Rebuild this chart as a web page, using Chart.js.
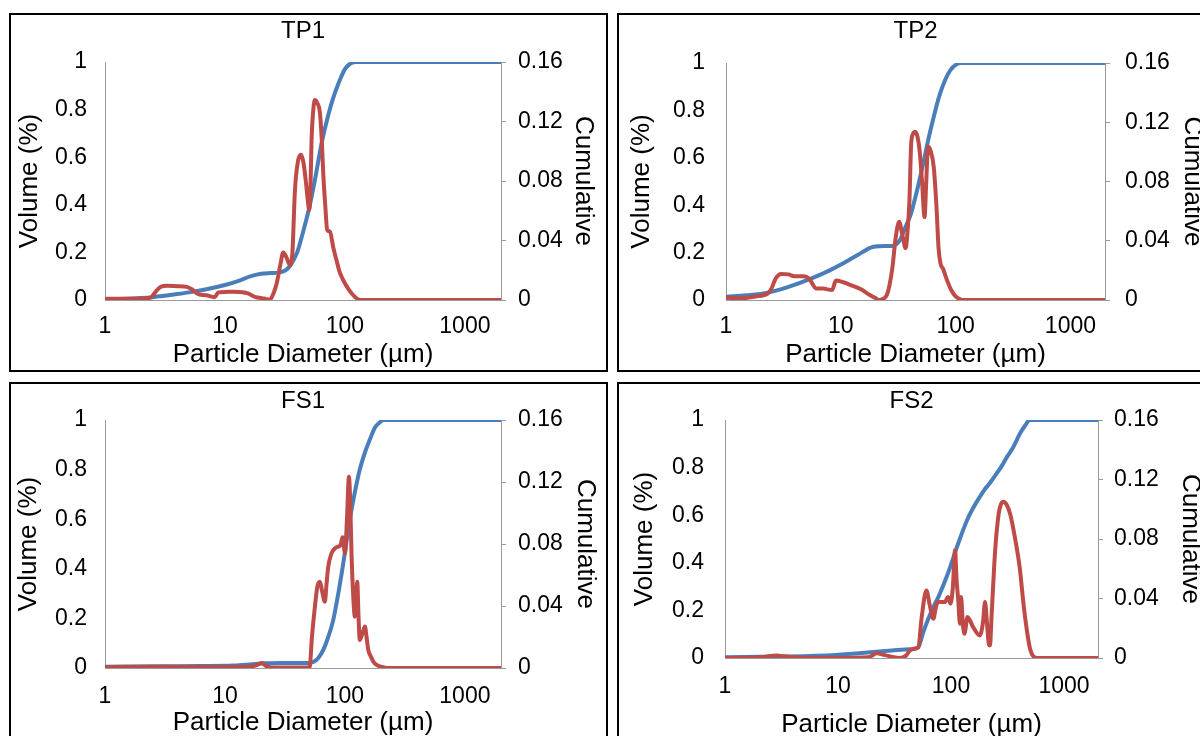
<!DOCTYPE html>
<html><head><meta charset="utf-8">
<script src="https://cdn.jsdelivr.net/npm/chart.js@4.4.1/dist/chart.umd.min.js"></script>
<style>
html,body{margin:0;padding:0;background:#fff;}
body{width:1200px;height:736px;overflow:hidden;position:relative;}
.panel{position:absolute;border:2px solid #000;box-sizing:border-box;}
canvas{position:absolute;}
</style></head><body>
<div class="panel" style="left:9px;top:13px;width:599px;height:359px"></div>
<div class="panel" style="left:617px;top:13px;width:620px;height:359px"></div>
<div class="panel" style="left:9px;top:382px;width:599px;height:400px"></div>
<div class="panel" style="left:617px;top:382px;width:620px;height:400px"></div>
<canvas id="tp1" width="595" height="355" style="left:11px;top:15px"></canvas>
<canvas id="tp2" width="595" height="355" style="left:619px;top:15px"></canvas>
<canvas id="fs1" width="595" height="355" style="left:11px;top:384px"></canvas>
<canvas id="fs2" width="595" height="355" style="left:619px;top:384px"></canvas>
<script>
// ---- Tick labels ----
const xTickValues = [1, 10, 100, 1000];
const xMin = 1, xMax = 2000;
const volTicksMax = 1, volStep = 0.2;
const cumTicksMax = 0.16, cumStep = 0.04;
const panelTitles = ['TP1', 'TP2', 'FS1', 'FS2'];
const xAxisTitle = 'Particle Diameter (\u00b5m)';
const leftAxisTitle = 'Volume (%)';
const rightAxisTitle = 'Cumulative';

// ---- TP1 ----
const tp1CumD = [1, 1.5, 2, 2.5, 3, 4, 5, 7, 10, 13, 16, 20, 24, 28, 32, 35, 40, 45, 50, 56, 64, 72, 80, 90, 100, 112, 125, 2000];
const tp1CumV = [0.003, 0.005, 0.008, 0.012, 0.017, 0.025, 0.032, 0.045, 0.063, 0.08, 0.098, 0.11, 0.113, 0.115, 0.125, 0.145, 0.2, 0.29, 0.38, 0.5, 0.66, 0.77, 0.85, 0.92, 0.97, 0.995, 1, 1];
const tp1VolD = [1, 1.5, 2, 2.4, 2.6, 2.9, 3.3, 4, 4.8, 5.3, 6, 7, 8.2, 8.8, 10, 12, 14, 15.5, 18, 20.2, 22, 23.7, 25.5, 27, 29, 30.6, 32.5, 34.8, 36.5, 38.3, 40.5, 43, 45, 47.2, 49, 50.4, 51.5, 52.7, 54.5, 56.2, 58.5, 61.9, 64, 66, 68.5, 71.2, 75, 80, 85, 90, 96.7, 106, 115, 125, 135, 2000];
const tp1VolV = [0.005, 0.005, 0.006, 0.01, 0.03, 0.055, 0.06, 0.058, 0.055, 0.045, 0.025, 0.02, 0.012, 0.032, 0.034, 0.035, 0.033, 0.028, 0.012, 0.008, 0.004, 0.002, 0.03, 0.07, 0.15, 0.2, 0.18, 0.147, 0.2, 0.46, 0.58, 0.61, 0.58, 0.5, 0.42, 0.378, 0.45, 0.67, 0.8, 0.84, 0.83, 0.786, 0.68, 0.53, 0.4, 0.294, 0.287, 0.22, 0.168, 0.12, 0.084, 0.049, 0.025, 0.007, 0, 0];

// ---- TP2 ----
const tp2CumD = [1, 1.5, 2.32, 3.5, 5.7, 8, 10.5, 14, 19.3, 24, 28, 32.8, 36, 41, 46, 51.5, 58, 64.5, 72, 81, 90, 101.5, 110, 2000];
const tp2CumV = [0.014, 0.02, 0.031, 0.055, 0.093, 0.125, 0.155, 0.19, 0.225, 0.228, 0.228, 0.253, 0.3, 0.367, 0.46, 0.562, 0.68, 0.773, 0.86, 0.928, 0.97, 0.994, 1, 1];
const tp2VolD = [1, 1.37, 1.8, 2.32, 2.5, 2.7, 3.03, 3.5, 3.95, 4.77, 5.3, 6.1, 7, 8.4, 9.06, 10.5, 12.2, 15, 17.9, 20, 21.6, 23, 25.1, 26.5, 28.2, 30, 32.2, 34.5, 36.7, 38, 39.6, 41, 42.5, 44.4, 46.5, 48.6, 51, 53.6, 55.5, 57.5, 60.5, 64.5, 68, 71, 73.8, 78, 84.1, 92, 100, 105.5, 115, 2000];
const tp2VolV = [0.01, 0.007, 0.015, 0.028, 0.05, 0.09, 0.11, 0.108, 0.1, 0.1, 0.09, 0.049, 0.048, 0.042, 0.082, 0.075, 0.063, 0.045, 0.021, 0.008, 0, 0.003, 0.02, 0.06, 0.14, 0.26, 0.33, 0.27, 0.218, 0.28, 0.42, 0.66, 0.7, 0.71, 0.69, 0.63, 0.5, 0.35, 0.5, 0.647, 0.63, 0.56, 0.4, 0.22, 0.155, 0.13, 0.084, 0.04, 0.015, 0.007, 0, 0];

// ---- FS1 ----
const fs1CumD = [1, 3, 6, 11.8, 16, 21.5, 30, 40, 50, 55, 60, 66, 72, 79.6, 88, 96.7, 110, 120, 133, 147, 161, 178, 195, 210, 2000];
const fs1CumV = [0.005, 0.007, 0.008, 0.01, 0.014, 0.019, 0.02, 0.02, 0.02, 0.025, 0.04, 0.073, 0.12, 0.19, 0.3, 0.42, 0.6, 0.7, 0.8, 0.87, 0.92, 0.97, 0.99, 1, 1];
const fs1VolD = [1, 3, 8, 12, 16, 18, 20.3, 22, 25, 35, 50, 51.1, 53, 56.2, 59, 61.9, 64.5, 68.1, 70, 72.6, 77, 82.5, 88, 90.8, 93, 95.5, 98, 100, 104, 108, 111, 113.5, 117, 121, 124, 126.6, 130, 133, 140, 146.8, 151, 156.5, 165, 173, 183.5, 200, 223, 2000];
const fs1VolV = [0.003, 0.005, 0.004, 0.004, 0.005, 0.01, 0.02, 0.008, 0.002, 0.002, 0.002, 0.01, 0.12, 0.247, 0.33, 0.348, 0.31, 0.267, 0.33, 0.408, 0.46, 0.482, 0.49, 0.492, 0.505, 0.527, 0.49, 0.462, 0.6, 0.771, 0.65, 0.462, 0.3, 0.207, 0.28, 0.348, 0.2, 0.113, 0.14, 0.167, 0.13, 0.073, 0.045, 0.025, 0.013, 0.005, 0, 0];

// ---- FS2 ----
const fs2CumD = [1, 3, 9.6, 20.6, 30.3, 40, 48, 52, 57, 63, 70, 78, 88, 98, 110.8, 124, 139, 157, 180, 200, 221, 254, 280, 313, 350, 409, 450, 500, 2000];
const fs2CumV = [0.003, 0.006, 0.013, 0.025, 0.032, 0.036, 0.039, 0.05, 0.11, 0.165, 0.215, 0.26, 0.32, 0.38, 0.455, 0.52, 0.58, 0.63, 0.677, 0.71, 0.735, 0.776, 0.805, 0.845, 0.88, 0.944, 0.975, 1, 1];
const fs2VolD = [1, 2, 2.87, 3.5, 5.7, 10, 18.6, 22, 26, 35, 40, 43, 48, 51.4, 55, 60.6, 65, 69.8, 74, 77, 88, 94.2, 98.8, 104, 108.6, 112, 116, 120, 123, 127, 131.5, 140, 157, 180, 192, 200, 208, 216, 221, 230, 246, 260, 272, 290, 310, 333, 370, 405, 440, 465, 500, 550, 600, 2000];
const fs2VolV = [0, 0.002, 0.01, 0.006, 0, 0, 0.003, 0.02, 0.012, 0, 0.01, 0.03, 0.04, 0.045, 0.17, 0.284, 0.22, 0.165, 0.22, 0.235, 0.235, 0.256, 0.228, 0.3, 0.453, 0.33, 0.242, 0.144, 0.256, 0.15, 0.102, 0.172, 0.13, 0.095, 0.15, 0.235, 0.15, 0.06, 0.053, 0.2, 0.453, 0.58, 0.635, 0.656, 0.645, 0.607, 0.5, 0.382, 0.22, 0.13, 0.04, 0.003, 0, 0];

const BLUE = '#4A7EBB', RED = '#BE4B48', AXIS = '#9a9a9a';
const FONT = "'Liberation Sans', Arial, sans-serif";

function pts(d, v) { return d.map((x, i) => ({x: x, y: v[i]})); }
function fmt(v) { return String(+Number(v).toFixed(2)); }

const layouts = {
  tp1: {leftW: 94, rightW: 105, xH: 70, tTop: 1.6, tBot: 16.6, xTickPad: 13, xTitlePad: 2, yTickPad: 18, y2TickPad: 12, yTitlePad: 6, y2TitlePad: 10},
  tp2: {leftW: 107, rightW: 109, xH: 70, tTop: 1.6, tBot: 17.6, xTickPad: 13, xTitlePad: 2, yTickPad: 21, y2TickPad: 15, yTitlePad: 10, y2TitlePad: 9},
  fs1: {leftW: 94, rightW: 105, xH: 71, tTop: 3.3, tBot: 3.9, xTickPad: 15, xTitlePad: 3, yTickPad: 18, y2TickPad: 12, yTitlePad: 5, y2TitlePad: 8},
  fs2: {leftW: 106, rightW: 116, xH: 81, tTop: 3.3, tBot: 3.9, xTickPad: 15, xTitlePad: 1, yTickPad: 21, y2TickPad: 11, yTitlePad: 13, y2TitlePad: 11}
};

function makeChart(id, title, cumD, cumV, volD, volV) {
  const L = layouts[id];
  const tickFont = {family: FONT, size: 23};
  const titleFont = {family: FONT, size: 26, lineHeight: 1};
  new Chart(document.getElementById(id), {
    type: 'line',
    data: {
      datasets: [
        {label: 'Volume', data: pts(volD, volV), borderColor: RED, borderWidth: 4, pointRadius: 0, cubicInterpolationMode: 'monotone', yAxisID: 'y', fill: false},
        {label: 'Cumulative', data: pts(cumD, cumV), borderColor: BLUE, borderWidth: 4, pointRadius: 0, cubicInterpolationMode: 'monotone', yAxisID: 'y', fill: false}
      ]
    },
    options: {
      responsive: false, animation: false, devicePixelRatio: 1,
      layout: {padding: 0},
      plugins: {
        legend: {display: false}, tooltip: {enabled: false},
        title: {display: true, text: title, color: '#000', fullSize: false,
          font: {family: FONT, size: 24, weight: 'normal', lineHeight: 1.2},
          padding: {top: L.tTop, bottom: L.tBot}}
      },
      scales: {
        x: {
          type: 'logarithmic', position: 'bottom', min: xMin, max: xMax,
          grid: {display: false, drawTicks: false},
          border: {display: true, color: AXIS, width: 1},
          ticks: {color: '#000', font: tickFont, padding: L.xTickPad, autoSkip: false, maxRotation: 0, minRotation: 0,
            callback: (v) => String(v)},
          afterBuildTicks: (s) => { s.ticks = xTickValues.map(v => ({value: v})); },
          afterFit: (s) => { s.height = L.xH; },
          title: {display: true, text: xAxisTitle, color: '#000', font: titleFont, padding: {top: 0, bottom: L.xTitlePad}}
        },
        y: {
          position: 'left', min: 0, max: volTicksMax,
          grid: {display: false, drawTicks: false},
          border: {display: true, color: AXIS, width: 1},
          ticks: {stepSize: volStep, color: '#000', font: tickFont, padding: L.yTickPad, callback: fmt},
          afterFit: (s) => { s.width = L.leftW; },
          title: {display: true, text: leftAxisTitle, color: '#000', font: titleFont, padding: {top: L.yTitlePad, bottom: 0}}
        },
        y2: {
          position: 'right', min: 0, max: cumTicksMax,
          grid: {display: true, drawOnChartArea: false, drawTicks: true, tickLength: 5, color: AXIS},
          border: {display: true, color: AXIS, width: 1},
          ticks: {stepSize: cumStep, color: '#000', font: tickFont, padding: L.y2TickPad, callback: fmt},
          afterFit: (s) => { s.width = L.rightW; },
          title: {display: true, text: rightAxisTitle, color: '#000', font: titleFont, padding: {top: L.y2TitlePad, bottom: 0}}
        }
      }
    }
  });
}

makeChart('tp1', panelTitles[0], tp1CumD, tp1CumV, tp1VolD, tp1VolV);
makeChart('tp2', panelTitles[1], tp2CumD, tp2CumV, tp2VolD, tp2VolV);
makeChart('fs1', panelTitles[2], fs1CumD, fs1CumV, fs1VolD, fs1VolV);
makeChart('fs2', panelTitles[3], fs2CumD, fs2CumV, fs2VolD, fs2VolV);
</script>
</body></html>
